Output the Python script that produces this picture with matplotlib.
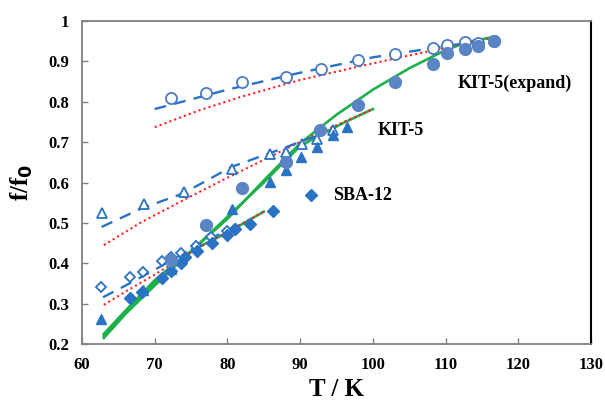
import matplotlib.pyplot as plt

# --- data ---
# SBA-12
sba_open_T = [62.6, 66.6, 68.4, 71.0, 72.3, 73.6, 75.7, 77.8, 80.0, 81.0]
sba_open_f = [0.342, 0.365, 0.378, 0.406, 0.415, 0.426, 0.443, 0.464, 0.480, 0.486]
sba_fill_T = [66.6, 68.3, 71.0, 72.3, 73.6, 74.2, 75.8, 77.9, 80.0, 81.0, 83.1, 86.2]
sba_fill_f = [0.313, 0.330, 0.364, 0.382, 0.401, 0.415, 0.430, 0.451, 0.470, 0.484, 0.497, 0.529]

# KIT-5
kit_open_T = [62.7, 68.5, 74.0, 80.6, 85.8, 88.0, 90.2, 92.3, 94.5]
kit_open_f = [0.525, 0.547, 0.577, 0.633, 0.670, 0.676, 0.695, 0.709, 0.730]
kit_fill_T = [62.6, 68.4, 72.3, 80.6, 85.8, 88.0, 90.1, 92.3, 94.5, 96.4]
kit_fill_f = [0.261, 0.334, 0.385, 0.534, 0.602, 0.631, 0.662, 0.687, 0.718, 0.737]

# KIT-5(expand)
exp_open_T = [72.2, 77.0, 82.0, 88.0, 92.8, 97.9, 103.1, 108.2, 110.2, 112.6, 114.5, 116.7]
exp_open_f = [0.809, 0.821, 0.850, 0.861, 0.880, 0.904, 0.918, 0.934, 0.941, 0.947, 0.946, 0.951]
exp_fill_T = [72.3, 77.0, 82.0, 88.0, 92.7, 97.9, 103.1, 108.2, 110.2, 112.6, 114.5, 116.7]
exp_fill_f = [0.408, 0.495, 0.586, 0.652, 0.730, 0.792, 0.850, 0.893, 0.920, 0.931, 0.938, 0.951]

# fitted curves
exp_dash_T = [70, 80, 90, 100, 110, 113.5]
exp_dash_f = [0.782, 0.830, 0.872, 0.910, 0.938, 0.947]
exp_red_T = [70, 76, 82, 90, 98, 104, 108, 112, 116.7]
exp_red_f = [0.737, 0.778, 0.813, 0.854, 0.887, 0.911, 0.926, 0.942, 0.959]
exp_green_T = [63, 66, 70, 75, 80, 85, 90, 95, 100, 105, 110, 113, 116.7]
exp_green_f = [0.220, 0.280, 0.350, 0.430, 0.510, 0.605, 0.697, 0.768, 0.830, 0.883, 0.928, 0.948, 0.961]

kit_dash_T = [62.7, 68.2, 73.9, 80.6, 87.7, 90.0, 93.0]
kit_dash_f = [0.490, 0.536, 0.573, 0.639, 0.685, 0.701, 0.720]
kit_red_T = [63, 68, 74, 80, 86, 90, 95, 100]
kit_red_f = [0.445, 0.500, 0.557, 0.612, 0.665, 0.701, 0.742, 0.782]
kit_green_T = [63, 66, 70, 75, 80, 85, 88, 90, 93, 96, 100]
kit_green_f = [0.215, 0.275, 0.345, 0.430, 0.515, 0.600, 0.655, 0.690, 0.720, 0.748, 0.782]

sba_dash_T = [62.9, 66, 70.3, 75, 79.9]
sba_dash_f = [0.316, 0.345, 0.387, 0.435, 0.482]
sba_red_T = [63, 66, 70, 75, 80, 85]
sba_red_f = [0.297, 0.330, 0.372, 0.428, 0.478, 0.528]
sba_green_T = [63, 66, 70, 73, 76, 80, 85]
sba_green_f = [0.225, 0.283, 0.358, 0.403, 0.440, 0.476, 0.528]

labels = ['KIT-5(expand)', 'KIT-5', 'SBA-12']

blue = '#2a72c4'
fill_circ = '#5b84c4'
green = '#1db04b'
red = '#ff2020'

plt.rcParams['font.family'] = ['Liberation Serif', 'DejaVu Serif']
plt.rcParams['font.weight'] = 'bold'

fig = plt.figure(figsize=(6.05, 4.01), dpi=100)
ax = fig.add_axes([0.1355, 0.142, 0.8415, 0.8056])

# green fits
for T, f in [(exp_green_T, exp_green_f), (kit_green_T, kit_green_f), (sba_green_T, sba_green_f)]:
    ax.plot(T, f, color=green, lw=1.9, zorder=2)
# red dotted fits
for T, f in [(exp_red_T, exp_red_f), (kit_red_T, kit_red_f), (sba_red_T, sba_red_f)]:
    ax.plot(T, f, color=red, lw=1.5, ls=(0, (1, 1.5)), zorder=3)
# blue dashed fits
for T, f in [(exp_dash_T, exp_dash_f), (kit_dash_T, kit_dash_f), (sba_dash_T, sba_dash_f)]:
    ax.plot(T, f, color=blue, lw=1.7, ls=(0, (5, 3.5)), zorder=3)

# markers
ax.plot(sba_open_T, sba_open_f, 'D', ms=5.5, mfc='white', mec=blue, mew=1.3, ls='none', zorder=4)
ax.plot(sba_fill_T, sba_fill_f, 'D', ms=6, color=blue, ls='none', zorder=5)
ax.plot(kit_open_T, kit_open_f, '^', ms=7, mfc='white', mec=blue, mew=1.3, ls='none', zorder=4)
ax.plot(kit_fill_T, kit_fill_f, '^', ms=7, color=blue, ls='none', zorder=5)
ax.plot(exp_open_T, exp_open_f, 'o', ms=8, mfc='white', mec='#4a7cc6', mew=1.3, ls='none', zorder=4)
ax.plot(exp_fill_T, exp_fill_f, 'o', ms=8.5, color=fill_circ, ls='none', zorder=5)

# labels
ax.text(111.6, 0.846, labels[0], fontsize=13, fontweight='bold', va='center')
ax.text(100.7, 0.730, labels[1], fontsize=13, fontweight='bold', va='center')
ax.plot([91.5], [0.569], 'D', ms=6, color=blue)
ax.text(94.5, 0.569, labels[2], fontsize=13, fontweight='bold', va='center')

ax.set_xlim(60, 130)
ax.set_ylim(0.2, 1.0)
ax.set_xticks(range(60, 131, 10))
ax.set_yticks([0.2, 0.3, 0.4, 0.5, 0.6, 0.7, 0.8, 0.9, 1.0])
ax.set_yticklabels(['0.2', '0.3', '0.4', '0.5', '0.6', '0.7', '0.8', '0.9', '1'])
ax.tick_params(direction='in', length=4, width=1, color='#808080', labelsize=12, pad=9)
for lab in ax.get_xticklabels() + ax.get_yticklabels():
    lab.set_fontweight('bold')
for side in ['left', 'bottom', 'top']:
    ax.spines[side].set_color('#808080')
    ax.spines[side].set_linewidth(1.3)
ax.spines['right'].set_color('black')
ax.spines['right'].set_linewidth(1.5)

ax.set_xlabel('T / K', fontsize=18, fontweight='bold', labelpad=4)
ax.set_ylabel('f/f$_\\mathbf{0}$', fontsize=18, fontweight='bold', labelpad=10)

fig.savefig('out.png', dpi=100)
